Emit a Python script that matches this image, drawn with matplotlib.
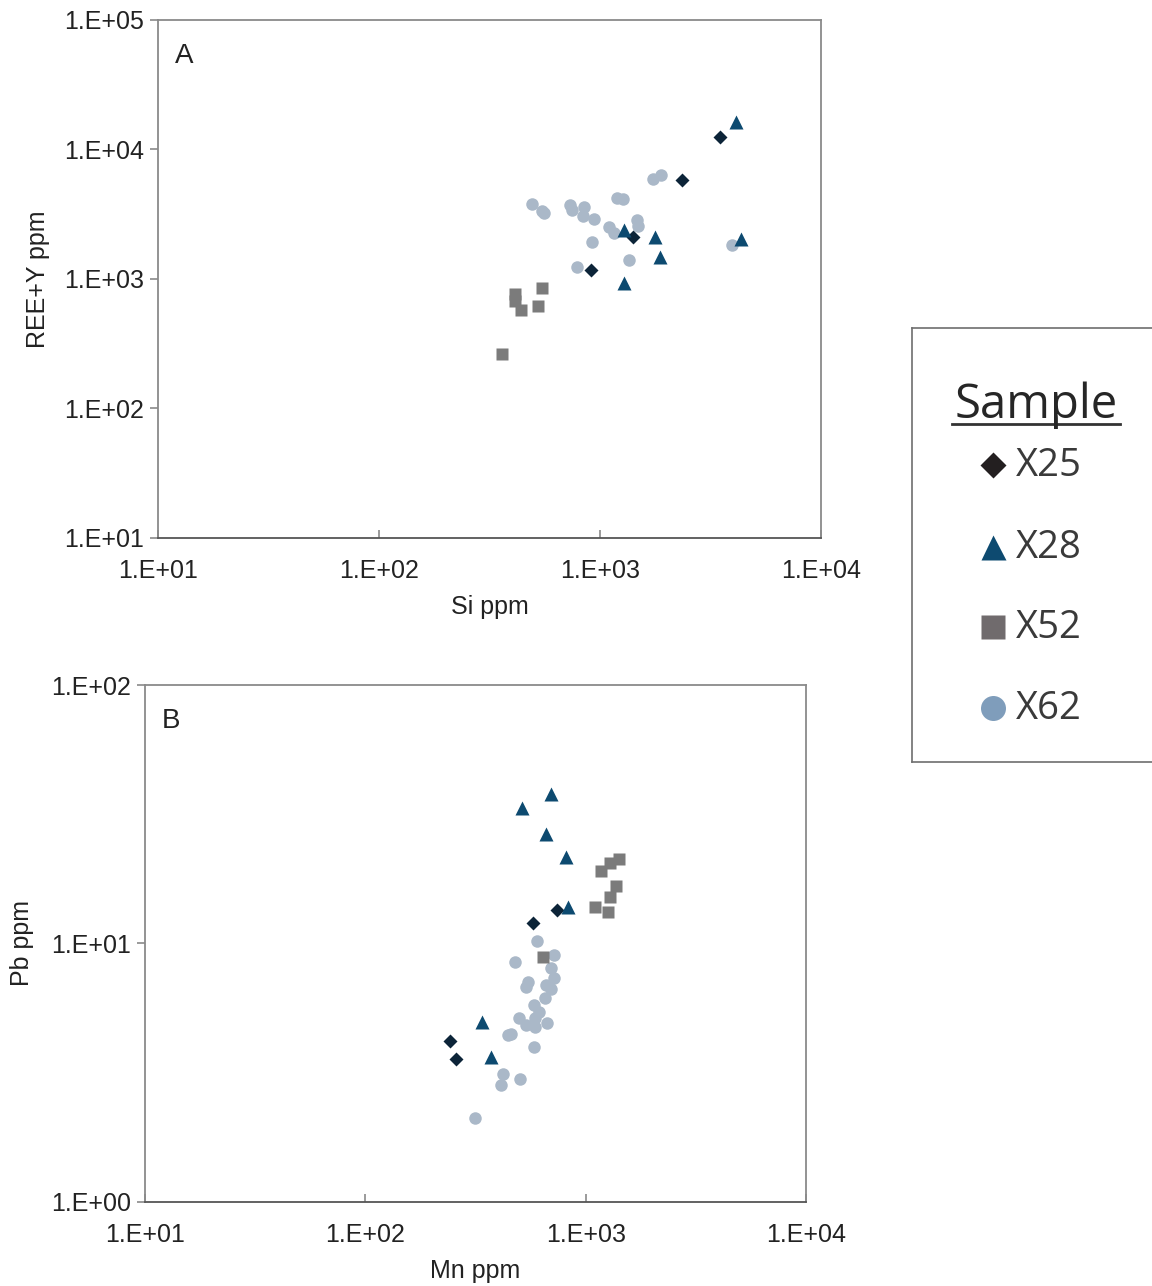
import math
import matplotlib
matplotlib.use("Agg")
import matplotlib.pyplot as plt
from matplotlib.ticker import FixedLocator, FuncFormatter, NullLocator

plt.rcParams['font.family'] = ['Liberation Sans', 'DejaVu Sans']

# Panel A: Si vs REE+Y (ppm)
si_x25 = [3491, 2350, 1410, 910]
ree_x25 = [12560, 5815, 2121, 1174]
si_x28 = [4123, 1285, 1768, 1869, 1285, 4347]
ree_x28 = [16400, 2390, 2099, 1486, 936, 2026]
si_x52 = [547, 411, 411, 440, 526, 360]
ree_x52 = [857, 766, 680, 581, 619, 264]
si_x62 = [491, 545, 560, 731, 745, 844, 835, 942, 923, 789,
          1197, 1275, 1732, 1888, 1098, 1157, 1466, 1486, 1357, 3969]
ree_x62 = [3815, 3350, 3216, 3727, 3410, 3578, 3065, 2891, 1931, 1245,
           4244, 4170, 5920, 6355, 2508, 2254, 2856, 2567, 1402, 1840]

# Panel B: Mn vs Pb (ppm)
mn_x25 = [739, 577, 242, 257]
pb_x25 = [13.5, 12.0, 4.20, 3.56]
mn_x28 = [699, 516, 663, 818, 831, 340, 372]
pb_x28 = [37.8, 33.3, 26.5, 21.7, 13.9, 4.98, 3.65]
mn_x52 = [1416, 1285, 1170, 1378, 1294, 1107, 1258, 637]
pb_x52 = [21.2, 20.5, 19.1, 16.7, 15.1, 13.8, 13.2, 8.87]
mn_x62 = [598, 716, 478, 694, 716, 546, 538, 663, 699, 652, 583, 614,
          498, 587, 668, 533, 591, 458, 446, 583, 422, 502, 412, 313]
pb_x62 = [10.2, 9.0, 8.5, 8.02, 7.37, 7.08, 6.77, 6.91, 6.65, 6.14, 5.78, 5.45,
          5.14, 5.14, 4.91, 4.83, 4.74, 4.47, 4.41, 3.97, 3.12, 2.99, 2.84, 2.11]

samples = ['X25', 'X28', 'X52', 'X62']
colors = {'X25': '#0c2438', 'X28': '#0d4a70', 'X52': '#7b7b7b', 'X62': '#aab8c8'}
markers = {'X25': 'D', 'X28': '^', 'X52': 's', 'X62': 'o'}
sizes = {'X25': 7.5, 'X28': 9.5, 'X52': 8, 'X62': 9}

axis_grey = '#8a8a8a'
text_col = '#222222'


def sci_label(v, pos):
    e = int(round(math.log10(v)))
    return '1.E%+03d' % e


def style_axes(ax, xlim, ylim):
    ax.set_xscale('log')
    ax.set_yscale('log')
    ax.set_xlim(*xlim)
    ax.set_ylim(*ylim)
    for s in ax.spines.values():
        s.set_color(axis_grey)
        s.set_linewidth(1.3)
    ax.spines['bottom'].set_color('#555555')
    xt = [10.0 ** k for k in range(int(round(math.log10(xlim[0]))),
                                   int(round(math.log10(xlim[1]))) + 1)]
    yt = [10.0 ** k for k in range(int(round(math.log10(ylim[0]))),
                                   int(round(math.log10(ylim[1]))) + 1)]
    ax.xaxis.set_major_locator(FixedLocator(xt))
    ax.yaxis.set_major_locator(FixedLocator(yt))
    ax.xaxis.set_minor_locator(NullLocator())
    ax.yaxis.set_minor_locator(NullLocator())
    ax.xaxis.set_major_formatter(FuncFormatter(sci_label))
    ax.yaxis.set_major_formatter(FuncFormatter(sci_label))
    ax.tick_params(axis='x', direction='in', length=6, width=1.2, color=axis_grey,
                   labelsize=18, labelcolor=text_col, pad=15)
    ax.tick_params(axis='y', direction='out', length=6, width=1.2, color=axis_grey,
                   labelsize=18, labelcolor=text_col, pad=4)


fig = plt.figure(figsize=(11.52, 12.86), dpi=100)

axA = fig.add_axes([0.1372, 0.58165, 0.5755, 0.4028])
style_axes(axA, (10, 1e4), (10, 1e5))
dataA = {'X25': (si_x25, ree_x25), 'X28': (si_x28, ree_x28),
         'X52': (si_x52, ree_x52), 'X62': (si_x62, ree_x62)}
for name in ['X62', 'X52', 'X25', 'X28']:
    x, y = dataA[name]
    axA.plot(x, y, linestyle='none', marker=markers[name], ms=sizes[name],
             color=colors[name], mec='none')
axA.set_xlabel('Si ppm', fontsize=18, color=text_col, labelpad=9)
axA.set_ylabel('REE+Y ppm', fontsize=18, color=text_col, labelpad=10)
axA.text(0.025, 0.955, 'A', transform=axA.transAxes, fontsize=20,
         color=text_col, va='top')

axB = fig.add_axes([0.1259, 0.06532, 0.5738, 0.40202])
style_axes(axB, (10, 1e4), (1, 100))
dataB = {'X25': (mn_x25, pb_x25), 'X28': (mn_x28, pb_x28),
         'X52': (mn_x52, pb_x52), 'X62': (mn_x62, pb_x62)}
for name in ['X62', 'X52', 'X25', 'X28']:
    x, y = dataB[name]
    axB.plot(x, y, linestyle='none', marker=markers[name], ms=sizes[name],
             color=colors[name], mec='none')
axB.set_xlabel('Mn ppm', fontsize=18, color=text_col, labelpad=9)
axB.set_ylabel('Pb ppm', fontsize=18, color=text_col, labelpad=12)
axB.text(0.025, 0.955, 'B', transform=axB.transAxes, fontsize=20,
         color=text_col, va='top')

# legend box, drawn in figure pixel units
leg = fig.add_axes([0.7917, 0.40747, 0.2109, 0.33748])
leg.set_xlim(912, 1155)
leg.set_ylim(762, 328)
leg.set_xticks([])
leg.set_yticks([])
for s in leg.spines.values():
    s.set_color('#6e6e6e')
    s.set_linewidth(1.2)
leg.text(1036, 418, 'Sample', fontsize=34, color='#262626',
         ha='center', va='baseline', family=['Open Sans', 'DejaVu Sans'])
leg.plot([952, 1120], [424, 424], color='#333333', lw=2)
leg_colors = {'X25': '#231f20', 'X28': '#0d4a70', 'X52': '#706b6d', 'X62': '#7f9dbb'}
leg_sizes = {'X25': 13, 'X28': 18, 'X52': 17, 'X62': 18}
rows = [465, 547, 627, 708]
for name, yy in zip(samples, rows):
    leg.plot([993], [yy], linestyle='none', marker=markers[name], ms=leg_sizes[name],
             color=leg_colors[name], mec='none')
    leg.text(1016, yy + 1, name, fontsize=27.5, color='#3a3a3a', ha='left',
             va='center', family=['Open Sans', 'DejaVu Sans'])

fig.savefig('out.png', dpi=100)
